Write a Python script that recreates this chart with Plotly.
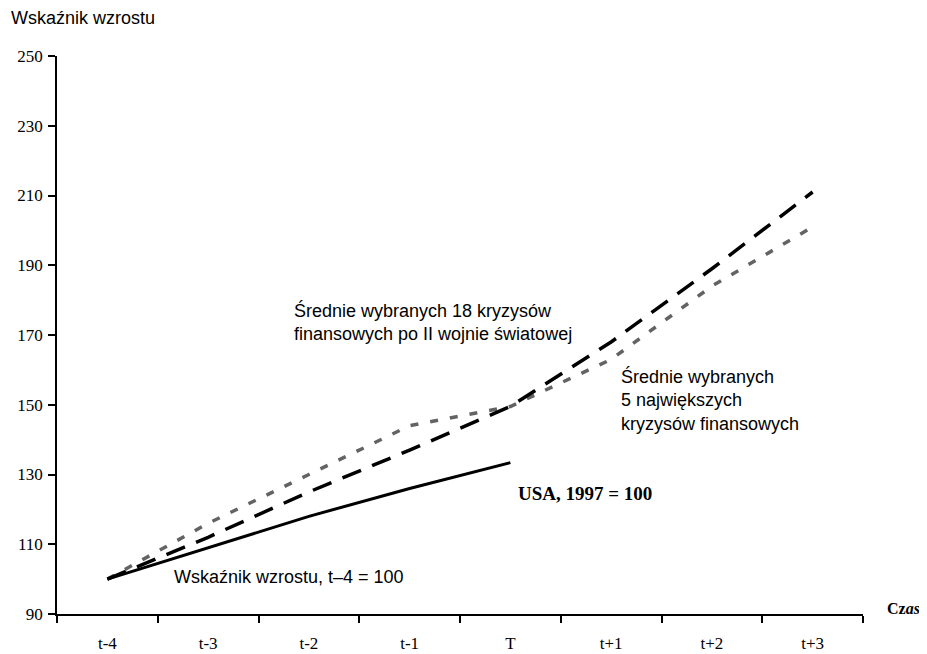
import plotly.graph_objects as go

periods = ["t-4", "t-3", "t-2", "t-1", "T", "t+1", "t+2", "t+3"]
usa_1997 = [100, 109, 118, 126, 133.4]
crises_18 = [100, 112, 125, 137, 149.5, 168, 189, 211]
crises_5 = [100, 116, 130, 144, 149.5, 163, 184, 201]
y_ticks = [90, 110, 130, 150, 170, 190, 210, 230, 250]

# page body has an 8px default margin; size the figure to fit the window
OFF = 8
W, H = 927 - OFF, 654 - OFF
L, R, T, B = 57 - OFF, 863 - OFF, 56 - OFF, 614 - OFF

def px(xp):
    return (xp - OFF - L) / (R - L)

def py(yp):
    return (B - (yp - OFF)) / (B - T)

fig = go.Figure()
fig.add_trace(go.Scatter(x=periods, y=crises_5, mode="lines",
                         line=dict(color="#636363", width=3.5, dash="8px,12px"),
                         showlegend=False))
fig.add_trace(go.Scatter(x=periods, y=crises_18, mode="lines",
                         line=dict(color="black", width=3.5, dash="20px,12px"),
                         showlegend=False))
fig.add_trace(go.Scatter(x=periods[:len(usa_1997)], y=usa_1997, mode="lines",
                         line=dict(color="black", width=3),
                         showlegend=False))

sans = "Liberation Sans, Arial, sans-serif"
serif = "Liberation Serif, Times New Roman, serif"

ann = [
    dict(text="Wskaźnik wzrostu", x=px(9), y=py(18), font=dict(family=sans, size=18, color="black")),
    dict(text="Średnie wybranych 18 kryzysów<br>finansowych po II wojnie światowej",
         x=px(292), y=py(322), font=dict(family=sans, size=18, color="black")),
    dict(text="Średnie wybranych<br>5 największych<br>kryzysów finansowych",
         x=px(619), y=py(400), font=dict(family=sans, size=18, color="black")),
    dict(text="<b>USA, 1997 = 100</b>", x=px(516), y=py(493), font=dict(family=serif, size=19, color="black")),
    dict(text="Wskaźnik wzrostu, t–4 = 100", x=px(172), y=py(577), font=dict(family=sans, size=18, color="black")),
    dict(text="<b>Cz<i>as</i></b>", x=px(885), y=py(608), font=dict(family=serif, size=16, color="black")),
]
annotations = []
for a in ann:
    annotations.append(dict(xref="paper", yref="paper", xanchor="left", yanchor="middle",
                            align="left", showarrow=False, **a))

fig.update_layout(
    width=W, height=H,
    margin=dict(l=L, r=W - R, t=T, b=H - B, autoexpand=False),
    plot_bgcolor="white", paper_bgcolor="white",
    annotations=annotations,
    xaxis=dict(type="category", categoryorder="array", categoryarray=periods,
               tickson="boundaries", ticks="outside", ticklen=7, tickwidth=1.5,
               tickcolor="black", showline=True, linecolor="black", linewidth=1.5,
               showgrid=False, zeroline=False, range=[-0.5, 7.5], automargin=False,
               tickfont=dict(family=serif, size=17, color="black"),
               ticklabelstandoff=13),
    yaxis=dict(range=[90, 250], tickvals=y_ticks, ticks="outside", ticklen=7,
               tickwidth=1.5, tickcolor="black", showline=True, linecolor="black",
               linewidth=1.5, showgrid=False, zeroline=False, automargin=False,
               tickfont=dict(family=serif, size=17, color="black"),
               ticklabelstandoff=2),
)

fig.write_html("out.html")
